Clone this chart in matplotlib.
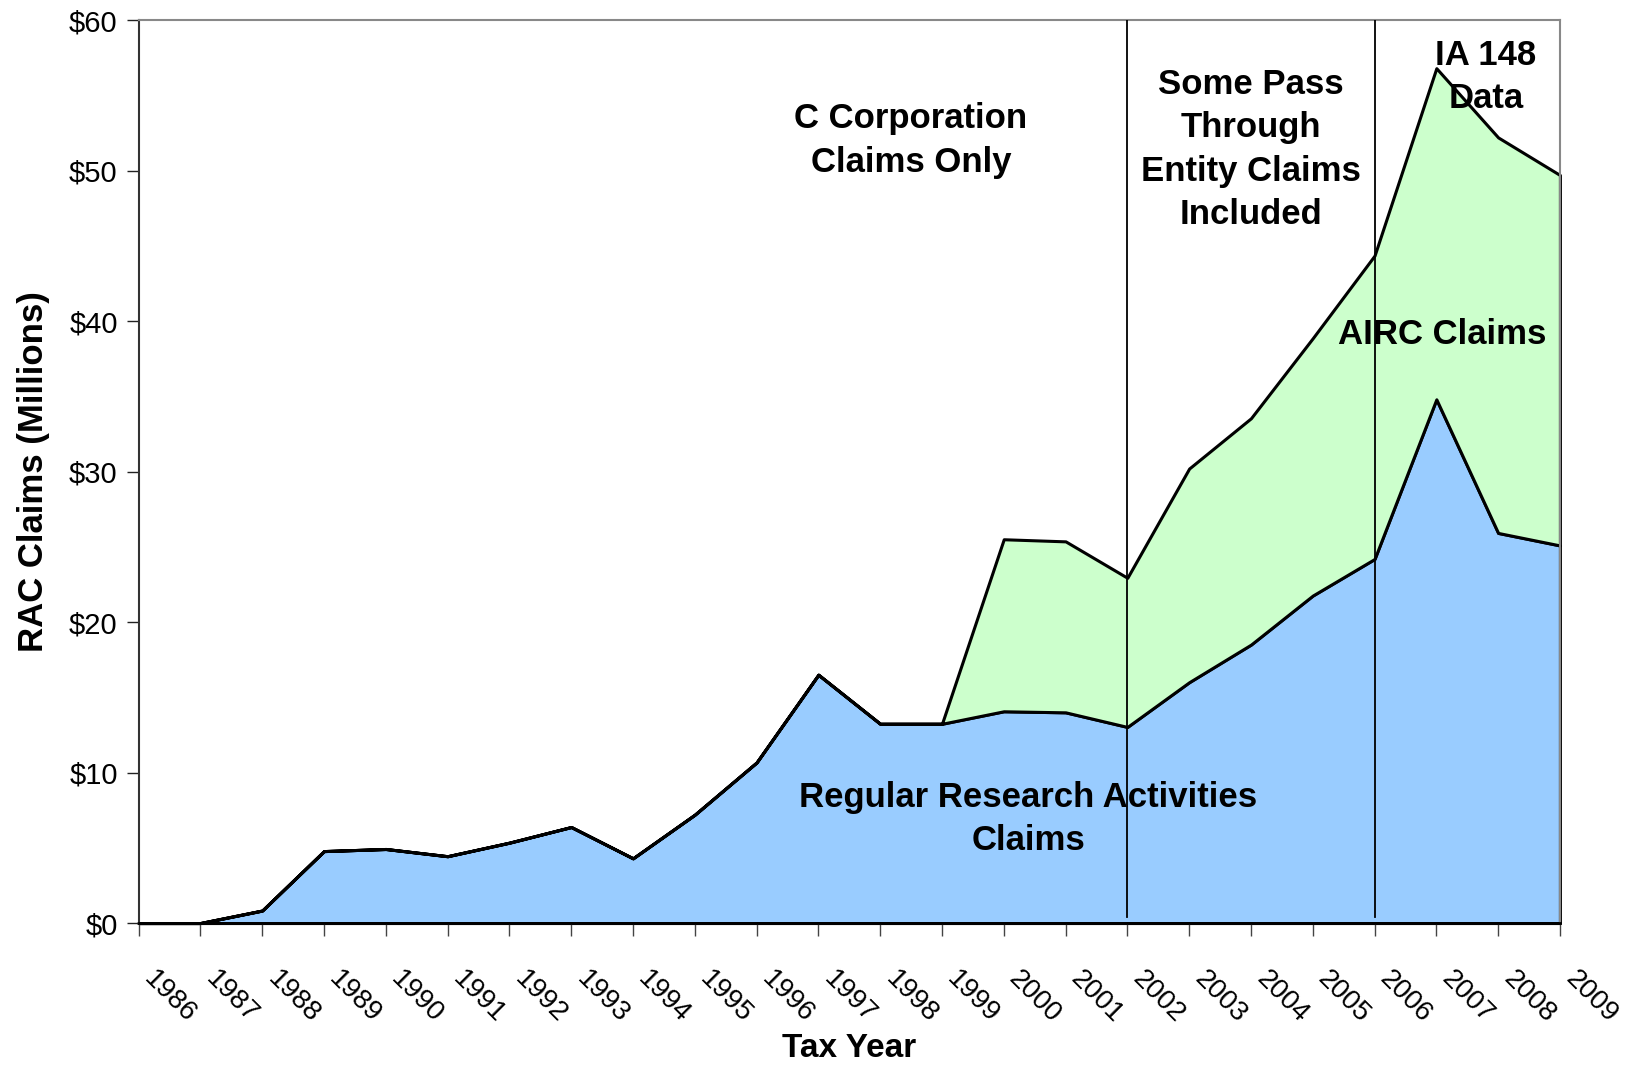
import matplotlib
matplotlib.use("Agg")
import matplotlib.pyplot as plt
import numpy as np

plt.rcParams['font.family'] = ['Liberation Sans', 'DejaVu Sans']

years = list(range(1986, 2010))
regular = [0, 0, 0.83, 4.78, 4.92, 4.44, 5.34, 6.38, 4.30, 7.2, 10.67, 16.5,
           13.24, 13.24, 14.07, 14.0, 13.03, 16.0, 18.5, 21.76, 24.19, 34.8,
           25.92, 25.09]
airc = [0, 0, 0, 0, 0, 0, 0, 0, 0, 0, 0, 0,
        0, 0, 11.43, 11.36, 9.91, 14.2, 15.04, 17.1, 20.16, 22.0,
        26.28, 24.61]
yticks = [0, 10, 20, 30, 40, 50, 60]
ytick_labels = ['$0', '$10', '$20', '$30', '$40', '$50', '$60']
period_breaks = [2002, 2006]

fig = plt.figure(figsize=(16.36, 10.65), dpi=100)
ax = fig.add_axes([0.0847, 0.1333, 0.8688, 0.8479])

ax.stackplot(years, regular, airc, colors=['#99ccff', '#ccffcc'],
             edgecolor='black', linewidth=2.2, clip_on=False)

for yr in period_breaks:
    ax.axvline(yr, ymin=0.007, ymax=1, color='black', linewidth=1.3, zorder=3)

ax.set_xlim(1986, 2009)
ax.set_ylim(0, 60)
ax.set_yticks(yticks)
ax.set_yticklabels(ytick_labels, fontsize=21)
ax.set_xticks(years)
ax.set_xticklabels([str(y) for y in years], fontsize=20, rotation=-45,
                   ha='left', va='top')
ax.tick_params(axis='x', length=9, width=1, color='#444444', pad=22)
ax.tick_params(axis='y', length=9, width=1, color='#222222', pad=6)

for s in ['top', 'right']:
    ax.spines[s].set_color('#888888')
    ax.spines[s].set_linewidth(1.5)
ax.spines['left'].set_color('#333333')
ax.spines['left'].set_linewidth(1.5)
ax.spines['bottom'].set_color('black')
ax.spines['bottom'].set_linewidth(2)

ax.set_xlabel('Tax Year', fontsize=24, fontweight='bold')
ax.xaxis.set_label_coords(0.5, -0.122)
ax.set_ylabel('RAC Claims (Millions)', fontsize=25, fontweight='bold', labelpad=14)

tkw = dict(fontsize=25, fontweight='bold', ha='center', va='center',
           linespacing=1.4, zorder=5)
ax.text(1998.5, 52.0, 'C Corporation\nClaims Only', **tkw)
ax.text(2004.0, 51.4, 'Some Pass\nThrough\nEntity Claims\nIncluded', **tkw)
ax.text(2007.8, 56.2, 'IA 148\nData', **tkw)
ax.text(2007.1, 39.1, 'AIRC Claims', **tkw)
ax.text(2000.4, 6.9, 'Regular Research Activities\nClaims', **tkw)

fig.savefig('out.png', dpi=100)
